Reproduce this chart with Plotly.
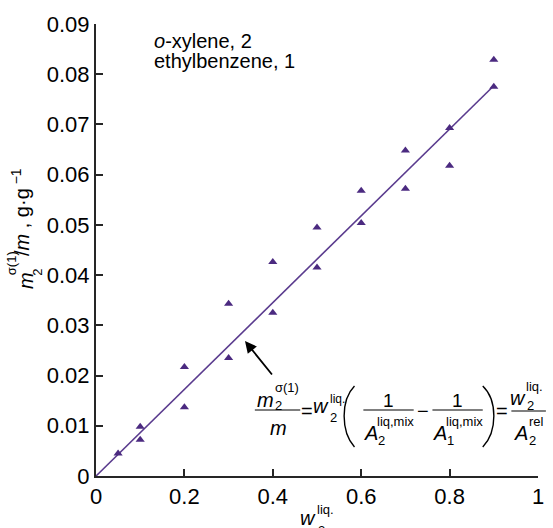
import plotly.graph_objects as go

# ---- data ----
w2_liq = [0.05, 0.1, 0.1, 0.2, 0.2, 0.3, 0.3, 0.4, 0.4, 0.5, 0.5, 0.6, 0.6, 0.7, 0.7, 0.8, 0.8, 0.9, 0.9]
m_ratio = [0.0045, 0.0098, 0.0072, 0.0217, 0.0137, 0.0343, 0.0235, 0.0426, 0.0325,
           0.0495, 0.0415, 0.0568, 0.0504, 0.0648, 0.0572, 0.0693, 0.0618, 0.0829, 0.0775]
fit_x = [0.0, 0.9]
fit_y = [0.0, 0.0777]
x_ticks = [0, 0.2, 0.4, 0.6, 0.8, 1.0]
x_ticklabels = ["0", "0.2", "0.4", "0.6", "0.8", "1"]
y_ticks = [0, 0.01, 0.02, 0.03, 0.04, 0.05, 0.06, 0.07, 0.08, 0.09]
y_ticklabels = ["0", "0.01", "0.02", "0.03", "0.04", "0.05", "0.06", "0.07", "0.08", "0.09"]

F = "Liberation Sans, Arial, sans-serif"
PURPLE = "#4b2a80"
LINE = "#5a3b8e"
AX = "#262626"
NB = "\u00a0"

W, H = 553, 528
L, R, T, B = 96, 9, 24, 52
X0, X1, Y0, Y1 = L, W - R, H - B, T


def P(px, py):
    return (px - X0) / (X1 - X0), (Y0 - py) / (Y0 - Y1)


fig = go.Figure()
fig.add_trace(go.Scatter(x=fit_x, y=fit_y, mode="lines",
                         line=dict(color=LINE, width=1.6), hoverinfo="skip"))
fig.add_trace(go.Scatter(x=w2_liq, y=m_ratio, mode="markers",
                         marker=dict(symbol="triangle-up", size=8, color=PURPLE)))


def txt(s, px, py, size=19, xa="center", ya="middle", angle=0):
    x, y = P(px, py)
    fig.add_annotation(text=s, x=x, y=y, xref="paper", yref="paper", showarrow=False,
                       xanchor=xa, yanchor=ya, textangle=angle,
                       font=dict(size=size, family=F, color="black"),
                       borderpad=0, borderwidth=0)


def bar(px0, px1, py):
    x0, y0 = P(px0, py)
    x1, _ = P(px1, py)
    fig.add_shape(type="line", xref="paper", yref="paper", x0=x0, x1=x1, y0=y0, y1=y0,
                  line=dict(color="black", width=1.2))


def paren(pts):
    s = []
    for i, (px, py) in enumerate(pts):
        x, y = P(px, py)
        s.append(("M " if i == 0 else ("C " if i == 1 else "")) + f"{x:.5f} {y:.5f}")
    fig.add_shape(type="path", xref="paper", yref="paper", path=" ".join(s),
                  line=dict(color="black", width=1.4))


# legend-like text
txt("<i>o</i>-xylene, 2", 155, 41, 20, xa="left")
txt("ethylbenzene, 1", 155, 61, 20, xa="left")

# formula: fraction 1
txt("<i>m</i>", 268, 400, 20)
txt("2", 277, 405, 13, xa="left")
txt("σ(1)", 277, 387, 13, xa="left")
bar(257, 303, 410)
txt("<i>m</i>", 281, 428, 20)
txt("=", 310, 411, 20)
txt("<i>w</i>", 324, 406, 20)
txt("2", 333, 417, 13, xa="left")
txt("liq.", 333, 399, 12, xa="left")
paren([(358, 386), (344, 400), (344, 432), (358, 447)])
# fraction 2
txt("1", 392, 400, 19)
bar(367, 418, 410)
txt("<i>A</i>", 375, 433, 20)
txt("2", 382, 440, 13, xa="left")
txt("liq,mix", 381, 421, 13, xa="left")
txt("−", 427, 411, 20)
# fraction 3
txt("1", 462, 400, 19)
bar(437, 488, 410)
txt("<i>A</i>", 445, 433, 20)
txt("1", 452, 440, 13, xa="left")
txt("liq,mix", 451, 421, 13, xa="left")
paren([(488, 386), (503, 400), (503, 432), (488, 447)])
txt("=", 508, 411, 20)
# fraction 4
txt("<i>w</i>", 524, 398, 20)
txt("liq.", 532, 386, 13, xa="left")
txt("2", 533, 405, 13, xa="left")
bar(517, 552, 411)
txt("<i>A</i>", 527, 433, 20)
txt("rel", 535, 421, 13, xa="left")
txt("2", 535, 440, 13, xa="left")

# arrow
hx, hy = P(247, 341)
fig.add_annotation(x=hx, y=hy, xref="paper", yref="paper", text=" ", showarrow=True,
                   ax=29, ay=36, arrowhead=2, arrowsize=1.3, arrowwidth=1.8, arrowcolor="black",
                   font=dict(size=4))

# x title
txt("<i>w</i>", 311, 518, 20)
txt("liq.", 320, 509, 13, xa="left")
txt("2", 321, 530, 13, xa="left")

# y title (rotated)
txt("<i>m</i>", 25, 280, 20, angle=-90)
txt("2", 36, 272, 13, angle=-90)
txt("σ(1)", 10, 263, 13, angle=-90)
txt("/<i>m</i>" + NB + "," + NB + "g·g<sup>" + NB + "−1</sup>",
    19, 256, 20, ya="bottom", angle=-90)

fig.update_layout(
    width=W, height=H, margin=dict(l=L, r=R, t=T, b=B),
    paper_bgcolor="white", plot_bgcolor="white", showlegend=False,
    font=dict(family=F, size=22, color="black"),
)
fig.update_xaxes(range=[0, 1], tickvals=x_ticks, ticktext=x_ticklabels,
                 showline=True, linecolor=AX, linewidth=2, ticks="inside", ticklen=7,
                 tickwidth=2, tickcolor=AX, showgrid=False, zeroline=False,
                 tickfont=dict(size=22, family=F, color="black"))
fig.update_yaxes(range=[0, 0.09], tickvals=y_ticks, ticktext=y_ticklabels,
                 showline=True, linecolor=AX, linewidth=2, ticks="inside", ticklen=7,
                 tickwidth=2, tickcolor=AX, showgrid=False, zeroline=False,
                 tickfont=dict(size=22, family=F, color="black"))

fig.write_html("out.html", config={"displayModeBar": False},
               post_script="document.body.style.margin='0';document.body.style.padding='0';")
